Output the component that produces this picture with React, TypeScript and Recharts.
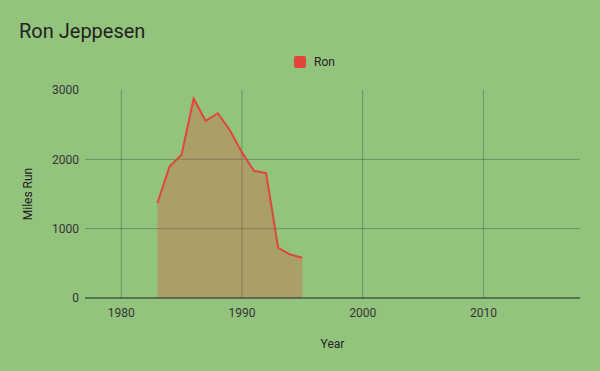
import React from 'react';
import { AreaChart, Area, XAxis, YAxis, CartesianGrid, Legend, Label } from 'recharts';

const years = [1983, 1984, 1985, 1986, 1987, 1988, 1989, 1990, 1991, 1992, 1993, 1994, 1995];
const miles = [1370, 1895, 2065, 2875, 2555, 2665, 2420, 2100, 1835, 1800, 722, 627, 580];
const xTicks = [1980, 1990, 2000, 2010];
const yTicks = [0, 1000, 2000, 3000];
const gridY = [1000, 2000];
const seriesName = 'Ron';

const data = years.map((y, i) => ({ year: y, Ron: miles[i] }));

const FONT = 'Roboto, "Noto Sans", sans-serif';
const RED = '#e2463a';

const LegendContent = () => (
  <div style={{ display: 'flex', alignItems: 'center', height: 20, fontFamily: FONT, fontSize: 12, color: '#222' }}>
    <span style={{ display: 'inline-block', width: 12, height: 12, background: RED, borderRadius: 2, marginRight: 8 }} />
    <span>{seriesName}</span>
  </div>
);

const YLabel = (props: any) => {
  const vb = props.viewBox || {};
  const cy = vb.y + vb.height / 2;
  const cx = 28;
  return (
    <text x={cx} y={cy} transform={`rotate(-90, ${cx}, ${cy})`} textAnchor="middle" dominantBaseline="central"
      fontFamily={FONT} fontSize={12} fill="#222">Miles Run</text>
  );
};

export default function App() {
  return (
    <div style={{ position: 'absolute', left: 0, top: 0, width: 600, height: 371, background: '#93c47d' }}>
      <div style={{ position: 'absolute', left: 19, top: 18, fontFamily: FONT, fontSize: 20, color: '#222', lineHeight: '26px' }}>
        Ron Jeppesen
      </div>
      <AreaChart width={600} height={371} data={data} margin={{ top: 70, right: 20, bottom: 43, left: 25 }}>
        <CartesianGrid stroke="#000" strokeOpacity={0.25} horizontalValues={gridY} verticalValues={xTicks} />
        <Legend verticalAlign="top" content={<LegendContent />} wrapperStyle={{ top: 52, left: 294, width: 100, height: 20 }} />
        <XAxis dataKey="year" type="number" domain={[1977, 2018]} ticks={xTicks} tickSize={0} tickMargin={10}
          axisLine={{ stroke: '#222', strokeWidth: 1 }} tick={{ fontFamily: FONT, fontSize: 12, fill: '#333' }} height={30}>
          <Label value="Year" position="bottom" offset={11} style={{ fontFamily: FONT, fontSize: 12, fill: '#222' }} />
        </XAxis>
        <YAxis type="number" domain={[0, 3000]} ticks={yTicks} width={60} axisLine={false} tickLine={false}
          tickSize={0} tickMargin={6} tick={{ fontFamily: FONT, fontSize: 12, fill: '#333' }}>
          <Label content={<YLabel />} />
        </YAxis>
        <Area type="linear" dataKey="Ron" name={seriesName} stroke={RED} strokeWidth={2} fill={RED} fillOpacity={0.3}
          dot={false} activeDot={false} isAnimationActive={false} />
      </AreaChart>
    </div>
  );
}
